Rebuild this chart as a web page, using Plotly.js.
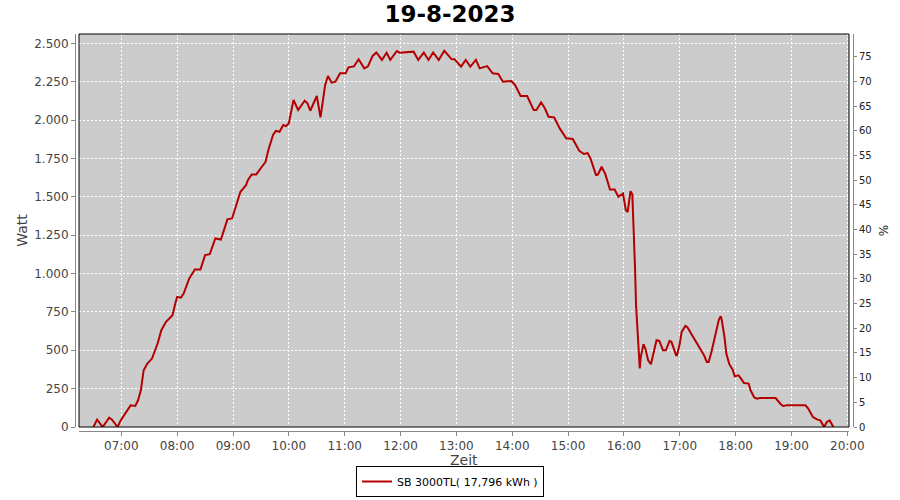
<!DOCTYPE html>
<html>
<head>
<meta charset="utf-8">
<script src="https://cdn.plot.ly/plotly-3.0.1.min.js"></script>
<style>html,body{margin:0;padding:0;background:#fff;}#chart{width:900px;height:500px;}</style>
</head>
<body>
<div id="chart"></div>
<script>
const day = '2023-08-19';
const chartTitle = '19-8-2023';
const seriesName = 'SB 3000TL( 17,796 kWh )';
const xTitle = 'Zeit';

const times = [
  '06:30','06:34','06:40','06:47','06:50','06:56','06:59','07:03','07:10','07:15',
  '07:18','07:21','07:24','07:28','07:33','07:39','07:43','07:48','07:55','07:58',
  '08:00','08:04','08:07','08:13','08:19','08:25','08:30','08:35','08:41','08:47',
  '08:54','08:59','09:05','09:08','09:14','09:16','09:20','09:25','09:31','09:35',
  '09:38','09:43','09:46','09:50','09:54','09:57','10:00','10:02','10:05','10:10',
  '10:17','10:20','10:23','10:30','10:34','10:39','10:42','10:46','10:50','10:55',
  '11:01','11:04','11:10','11:15','11:21','11:25','11:30','11:34','11:40','11:45',
  '11:49','11:56','11:59','12:14','12:19','12:25','12:30','12:35','12:41','12:47',
  '12:55','12:58','13:05','13:10','13:15','13:21','13:25','13:33','13:39','13:45',
  '13:50','13:59','14:03','14:09','14:16','14:23','14:26','14:31','14:35','14:39',
  '14:45','14:51','14:58','15:05','15:12','15:17','15:21','15:24','15:30','15:32',
  '15:36','15:40','15:45','15:50','15:54','15:59','16:02','16:04','16:07','16:09',
  '16:11','16:12','16:13','16:15','16:16','16:17','16:18','16:21','16:23','16:26',
  '16:29','16:31','16:35','16:38','16:42','16:45','16:49','16:51','16:56','16:57',
  '17:00','17:02','17:06','17:08','17:15','17:22','17:26','17:29','17:31','17:34',
  '17:39','17:42','17:44','17:45','17:48','17:50','17:53','17:57','17:59','18:03',
  '18:05','18:09','18:14','18:16','18:20','18:23','18:26','18:43','18:48','18:51',
  '18:55','19:15','19:18','19:23','19:28','19:31','19:35','19:38','19:41','19:45'
];

const watts = [
  0,48,0,61,48,0,39,76,141,137,
  174,239,370,413,446,544,631,685,728,805,
  848,843,870,968,1026,1026,1120,1126,1229,1222,
  1353,1359,1478,1533,1576,1609,1646,1646,1696,1728,
  1805,1903,1929,1924,1968,1961,1979,2033,2131,2066,
  2126,2110,2061,2157,2018,2229,2287,2244,2250,2305,
  2305,2344,2350,2396,2337,2350,2418,2441,2392,2439,
  2392,2450,2439,2446,2392,2441,2392,2441,2392,2452,
  2396,2396,2348,2392,2348,2392,2337,2352,2305,2300,
  2250,2255,2229,2157,2157,2066,2066,2116,2077,2022,
  2018,1946,1881,1877,1800,1779,1785,1750,1642,1645,
  1696,1648,1548,1548,1500,1522,1413,1400,1537,1516,
  1239,1022,794,587,457,381,453,539,511,435,
  409,457,565,561,500,500,561,555,468,468,
  544,620,659,652,577,511,468,424,424,489,
  609,700,722,700,587,479,413,370,331,337,
  322,287,283,239,192,185,189,189,152,137,
  141,141,120,65,48,43,0,33,43,0
];

const xRange = ['06:14:33', '20:01:47'];
const wattRange = [0, 2561];
const pctRange = [0, 79.6];

const xs = times.map(t => day + ' ' + t);

const tickFont = {family: 'DejaVu Sans, sans-serif', size: 12, color: '#444444'};

const traces = [
  {
    x: xs, y: watts, type: 'scatter', mode: 'lines',
    name: seriesName,
    line: {color: '#b40000', width: 2},
    hoverinfo: 'x+y'
  },
  {
    x: [xs[0]], y: [0], type: 'scatter', mode: 'lines',
    yaxis: 'y2', showlegend: false, hoverinfo: 'skip',
    line: {width: 0}, opacity: 0
  }
];

const layout = {
  width: 900, height: 500,
  paper_bgcolor: '#ffffff',
  plot_bgcolor: '#cccccc',
  separators: ',.',
  margin: {l: 75, r: 47, t: 34, b: 69, pad: 0, autoexpand: false},
  title: {
    text: '<b>' + chartTitle + '</b>',
    font: {family: 'DejaVu Sans, sans-serif', size: 23, color: '#000000'},
    x: 0.5, xanchor: 'center', xref: 'container', y: 0.972, yanchor: 'middle', yref: 'container'
  },
  xaxis: {
    type: 'date',
    domain: [4/778, 774/778],
    anchor: 'free', position: 0,
    range: xRange.map(t => day + ' ' + t),
    tickformat: '%H:%M',
    dtick: 3600000,
    tick0: day + ' 00:00',
    showgrid: true, gridcolor: '#ffffff', griddash: '2px,2px', gridwidth: 1,
    showline: true, linecolor: '#888888', linewidth: 1,
    ticks: 'outside', ticklen: 4, tickcolor: '#888888',
    tickfont: tickFont,
    zeroline: false, automargin: false
  },
  yaxis: {
    domain: [4/397, 1],
    anchor: 'free', position: 0,
    range: wattRange,
    tick0: 0, dtick: 250,
    tickformat: ',d',
    showgrid: true, gridcolor: '#ffffff', griddash: '2px,2px', gridwidth: 1,
    showline: true, linecolor: '#888888', linewidth: 1,
    ticks: 'outside', ticklen: 4, tickcolor: '#888888',
    tickfont: tickFont,
    zeroline: false, automargin: false,
    title: {text: 'Watt', font: {family: 'DejaVu Sans, sans-serif', size: 14, color: '#444444'}, standoff: 2}
  },
  yaxis2: {
    overlaying: 'y', side: 'right',
    anchor: 'free', position: 1,
    range: pctRange,
    tick0: 0, dtick: 5,
    showgrid: false, zeroline: false, automargin: false,
    showline: true, linecolor: '#888888', linewidth: 1,
    ticks: 'outside', ticklen: 3, tickcolor: '#888888',
    tickfont: {family: 'DejaVu Sans, sans-serif', size: 10, color: '#222222'},
    title: {text: '%', font: {family: 'DejaVu Sans, sans-serif', size: 12, color: '#222222'}, standoff: 8}
  },
  annotations: [
    {text: xTitle, xref: 'paper', yref: 'paper', x: 0.5, y: -0.073,
     xanchor: 'center', yanchor: 'middle', showarrow: false,
     font: {family: 'DejaVu Sans, sans-serif', size: 14, color: '#444444'}}
  ],
  shapes: [
    {type: 'rect', xref: 'x domain', yref: 'y domain', x0: 0, x1: 1, y0: 0, y1: 1,
     line: {color: '#000000', width: 1}, fillcolor: 'rgba(0,0,0,0)', layer: 'above'}
  ],
  showlegend: true,
  legend: {
    orientation: 'h',
    xref: 'container', yref: 'container',
    x: 0.5, xanchor: 'center',
    y: 0.006, yanchor: 'bottom',
    bordercolor: '#000000', borderwidth: 1,
    bgcolor: '#ffffff',
    font: {family: 'DejaVu Sans, sans-serif', size: 11, color: '#000000'},
    itemwidth: 30
  }
};

Plotly.newPlot('chart', traces, layout, {displayModeBar: false, staticPlot: true});
</script>
</body>
</html>
